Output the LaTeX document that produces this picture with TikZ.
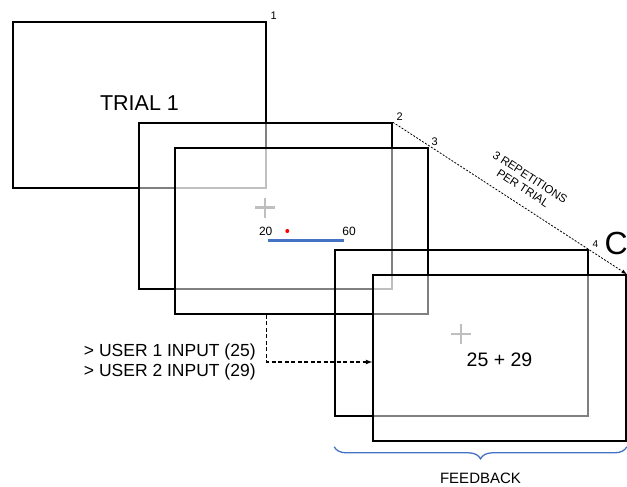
\documentclass[tikz,border=0pt]{standalone}
\usepackage{fontspec}
\setmainfont{Liberation Sans}
\usetikzlibrary{arrows,positioning,decorations.pathreplacing}
\definecolor{barblue}{HTML}{4472C4}
\definecolor{crossgray}{HTML}{BFBFBF}
\tikzset{
 screen/.style={draw, line width=1.6pt, minimum width=253pt, minimum height=166pt, inner sep=0pt},
 veil/.style={fill=white, fill opacity=0.5},
 cornernum/.style={anchor=south west, inner sep=1.5pt},
 cross/.style={crossgray, line width=2.8pt},
 userarrow/.style={-latex, line width=1.2pt, dash pattern=on 4pt off 2.5pt},
 repeatline/.style={-latex, line width=0.8pt, dash pattern=on 2pt off 1.5pt},
 feedbrace/.style={barblue, line width=1.3pt, decorate, decoration={brace, mirror, amplitude=12pt}},
}

\begin{document}
\begin{tikzpicture}[x=1pt,y=-1pt]
\useasboundingbox (0,0) rectangle (627,487);

\node[screen,veil] (s1) at (139.5,105) {};
\node[font=\fontsize{21.5}{24}\selectfont] (trial) at ([yshift=2pt]s1.center) {TRIAL 1};
\node[screen,veil] (s2) at (265.5,206) {};
\node[screen,veil] (s3) at (301.5,231) {};

\draw[cross] (255,207.5) -- (275,207.5) (265,197.5) -- (265,217.5);
\node[font=\fontsize{12}{14}\selectfont, inner sep=0pt] (low) at (265.7,231) {20};
\node[font=\fontsize{12}{14}\selectfont, inner sep=0pt] (high) at (349,231) {60};
\fill[red] (287.3,231) circle (2pt);
\draw[barblue, line width=2.5pt] (268,240.5) -- (344,240.5);

\node[screen] (s4) at (461.5,333) {};
\node[screen,veil] (s5) at (499.5,358) {};

\draw[cross] (451,334) -- (471,334) (461,324) -- (461,344);
\node[font=\fontsize{19.5}{22}\selectfont] (sum) at ([yshift=-2pt]s5.center) {25 + 29};

\node[cornernum, font=\fontsize{11}{13}\selectfont, xshift=2pt] (n1) at (s1.north east) {1};
\node[cornernum, font=\fontsize{11}{13}\selectfont, xshift=2pt] (n2) at (s2.north east) {2};
\node[cornernum, font=\fontsize{11}{13}\selectfont, xshift=1pt] (n3) at (s3.north east) {3};
\node[cornernum, font=\fontsize{10}{12}\selectfont, xshift=2pt] (n4) at (s4.north east) {4};
\node[font=\fontsize{32}{34}\selectfont, anchor=west, inner sep=0pt] (loop) at (604.5,243.5) {C};

\draw[repeatline] (s2.north east) -- node[sloped, pos=0.52, above=8pt, align=center, font=\fontsize{11.5}{13}\selectfont] (reps) {3 REPETITIONS\\PER TRIAL} (s5.north east);

\coordinate (bend) at ([yshift=-4pt]s5.west -| s1.east);
\draw[userarrow] (s1.east |- s3.south) -- (bend) -- ([yshift=-4pt]s5.west);
\node[left=11pt of bend, inner sep=0pt, align=left, font=\fontsize{17.5}{20}\selectfont] (inputs) {> USER 1 INPUT (25)\\> USER 2 INPUT (29)};

\coordinate (fbl) at ([yshift=-5pt]s4.west |- s5.south);
\coordinate (fbr) at ([yshift=-5pt]s5.south east);
\draw[feedbrace] (fbl) -- (fbr);
\path (fbl) -- node[midway, below=25pt, inner sep=1pt, font=\fontsize{15}{17}\selectfont] (feedback) {FEEDBACK} (fbr);
\end{tikzpicture}
\end{document}
